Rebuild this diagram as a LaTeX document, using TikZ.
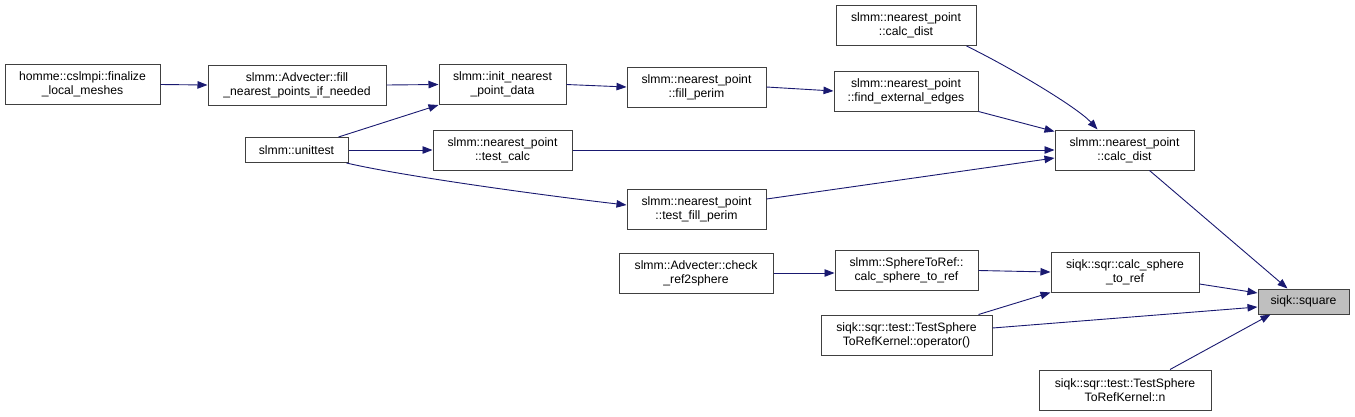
\documentclass[tikz,border=0pt]{standalone}
\usepackage{fontspec}
\setmainfont{Liberation Sans}
\usetikzlibrary{arrows.meta}
\definecolor{edgeblue}{HTML}{191970}
\definecolor{boxline}{HTML}{404040}
\definecolor{hl}{HTML}{BFBFBF}
\tikzset{
  fn/.style={draw=boxline, line width=1pt, fill=white, inner sep=0pt, align=center,
    font=\fontsize{12.2}{14.3}\selectfont, minimum height=40pt},
  fn1/.style={fn, minimum height=25pt},
  call/.style={draw=edgeblue, line width=0.9pt, -{Triangle[length=10pt,width=7.5pt]}}
}
\begin{document}
\begin{tikzpicture}[x=1pt,y=-1pt]
\useasboundingbox (0,0) rectangle (1355,416);
% nodes
\node[fn, minimum width=155pt] (homme) at (82.5,84.5) {homme::cslmpi::finalize\\\_local\_meshes};
\node[fn, minimum width=178pt] (fill) at (297,85) {slmm::Advecter::fill\\\_nearest\_points\_if\_needed};
\node[fn, minimum width=127pt] (init) at (502.5,84.5) {slmm::init\_nearest\\\_point\_data};
\node[fn1, minimum width=103pt] (unit) at (296.5,150) {slmm::unittest};
\node[fn, minimum width=139pt] (tcalc) at (502.5,150) {slmm::nearest\_point\\::test\_calc};
\node[fn, minimum width=139pt] (tfp) at (696.5,209) {slmm::nearest\_point\\::test\_fill\_perim};
\node[fn, minimum width=139pt] (fp) at (696.5,87) {slmm::nearest\_point\\::fill\_perim};
\node[fn, minimum width=144pt] (fee) at (906,91) {slmm::nearest\_point\\::find\_external\_edges};
\node[fn, minimum width=140pt] (cdtop) at (906,25.5) {slmm::nearest\_point\\::calc\_dist};
\node[fn, minimum width=139pt] (cd) at (1124.5,150) {slmm::nearest\_point\\::calc\_dist};
\node[fn, minimum width=154pt] (chk) at (696,273) {slmm::Advecter::check\\\_ref2sphere};
\node[fn, minimum width=143pt] (s2r) at (906.5,270.5) {slmm::SphereToRef::\\calc\_sphere\_to\_ref};
\node[fn, minimum width=171pt] (op) at (906.5,335) {siqk::sqr::test::TestSphere\\ToRefKernel::operator()};
\node[fn, minimum width=148pt] (csr) at (1125,272) {siqk::sqr::calc\_sphere\\\_to\_ref};
\node[fn1, minimum width=91pt, fill=hl] (sq) at (1303.5,301.5) {siqk::square};
\node[fn, minimum width=172pt] (n) at (1125,390) {siqk::sqr::test::TestSphere\\ToRefKernel::n};
% edges
\draw[call] (homme.east) -- (fill.west);
\draw[call] (fill.east) -- (init.west);
\draw[call] ([xshift=-10pt]unit.north east) -- (init.south west);
\draw[call] (unit.east) -- (tcalc.west);
\draw[call] ([xshift=-2pt]unit.south east) .. controls +(60,14) and +(-70,-8) .. ([yshift=4pt]tfp.west);
\draw[call] (init.east) -- (fp.west);
\draw[call] (fp.east) -- (fee.west);
\draw[call] ([xshift=-10pt]cdtop.south east) .. controls +(45,22) and +(-20,-22) .. ([xshift=-27pt]cd.north);
\draw[call] (fee.south east) -- ([yshift=-2pt]cd.north west);
\draw[call] (tcalc.east) -- (cd.west);
\draw[call] ([yshift=10pt]tfp.east) -- ([yshift=-8pt]cd.west);
\draw[call] ([xshift=25pt]cd.south) -- ([xshift=-16pt]sq.north);
\draw[call] (chk.east) -- (chk.east -| s2r.west);
\draw[call] (s2r.east) -- (csr.west);
\draw[call] ([xshift=-14pt]op.north east) -- (csr.south west);
\draw[call] ([yshift=7pt]op.east) -- ([yshift=-5.5pt]sq.west);
\draw[call] ([yshift=-12pt]csr.east) -- ([yshift=8.5pt]sq.west);
\draw[call] ([xshift=45pt]n.north) -- ([xshift=-33pt]sq.south);
\end{tikzpicture}
\end{document}
